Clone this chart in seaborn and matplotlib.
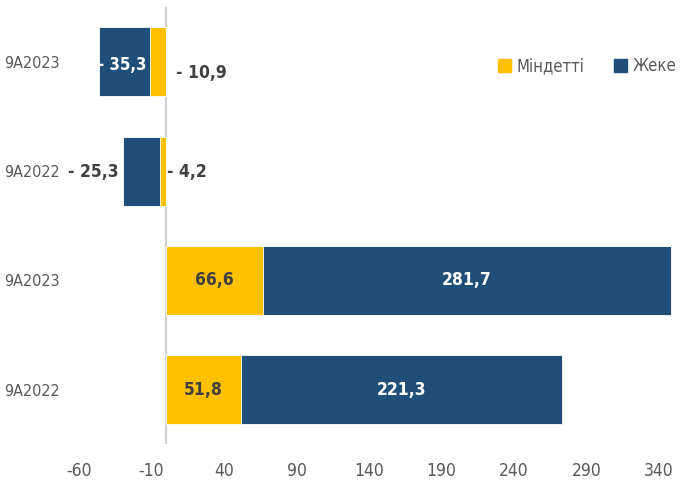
import matplotlib
matplotlib.use("Agg")
import matplotlib.pyplot as plt
import seaborn as sns
import pandas as pd
from matplotlib.patches import Patch

sns.set_style("white")
plt.rcParams['font.family'] = ['Liberation Sans Narrow', 'DejaVu Sans']
plt.rcParams['font.stretch'] = 'condensed'
plt.rcParams['axes.unicode_minus'] = False

# data, top to bottom
row_labels = ["9A2023", "9A2022", "9A2023", "9A2022"]
mindetti = [-10.9, -4.2, 66.6, 51.8]
zheke = [-35.3, -25.3, 281.7, 221.3]

YELLOW = "#FFC000"
BLUE = "#1F4E79"
DARK = "#404040"
GRAY = "#595959"

keys = [f"r{i}" for i in range(len(row_labels))]
df = pd.DataFrame({"key": keys, "m": mindetti, "z": zheke})
df["total"] = df["m"] + df["z"]

fig, ax = plt.subplots(figsize=(6.81, 4.84), dpi=100)
fig.subplots_adjust(left=0.116, right=0.989, top=0.985, bottom=0.082)

# stacked look: total (Жеке on top of Міндетті), then Міндетті over it
sns.barplot(data=df, y="key", x="total", order=keys, color=BLUE, width=0.63,
            saturation=1, edgecolor="white", linewidth=0.6, ax=ax)
sns.barplot(data=df, y="key", x="m", order=keys, color=YELLOW, width=0.63,
            saturation=1, edgecolor="white", linewidth=0.6, ax=ax)

def fmt(v):
    s = f"{abs(v):.1f}".replace(".", ",")
    return f"- {s}" if v < 0 else s

lab_kw = dict(fontsize=12.5, fontweight="bold", va="center")
for i, (m, z) in enumerate(zip(mindetti, zheke)):
    if m > 0:
        ax.text(m / 2, i, fmt(m), ha="center", color=DARK, **lab_kw)
        ax.text(m + z / 2, i, fmt(z), ha="center", color="white", **lab_kw)
    elif i == 0:
        ax.text(m + z / 2 - 1.5, i + 0.03, fmt(z), ha="center", color="white",
                fontsize=12, fontweight="bold", va="center")
        ax.text(7, i + 0.1, fmt(m), ha="left", color=DARK, **lab_kw)
    else:
        ax.text(m + z - 3, i + 0.01, fmt(z), ha="right", color=DARK, **lab_kw)
        ax.text(1, i + 0.01, fmt(m), ha="left", color=DARK, **lab_kw)

ax.set_xlim(-60, 350)
ax.set_ylim(3.5, -0.5)
ax.set_xticks(range(-60, 341, 50))
ax.set_yticks(range(len(row_labels)))
ax.set_yticklabels(row_labels)
ax.set_xlabel("")
ax.set_ylabel("")
ax.tick_params(axis="both", length=0, labelcolor=GRAY)
ax.tick_params(axis="x", pad=13, labelsize=12.5)
ax.tick_params(axis="y", pad=13.5, labelsize=11.5)
for s in ax.spines.values():
    s.set_visible(False)
ax.axvline(0, color="#D0D0D0", linewidth=1.5, zorder=0.5)

handles = [Patch(color=YELLOW, label="Міндетті"), Patch(color=BLUE, label="Жеке")]
leg = ax.legend(handles=handles, loc="center right", bbox_to_anchor=(1.016, 0.865),
                borderaxespad=0, ncol=2, frameon=False, fontsize=12,
                handlelength=0.75, handleheight=0.75, handletextpad=0.35,
                columnspacing=1.8)
for t in leg.get_texts():
    t.set_color(GRAY)

fig.savefig("out.png", dpi=100)
